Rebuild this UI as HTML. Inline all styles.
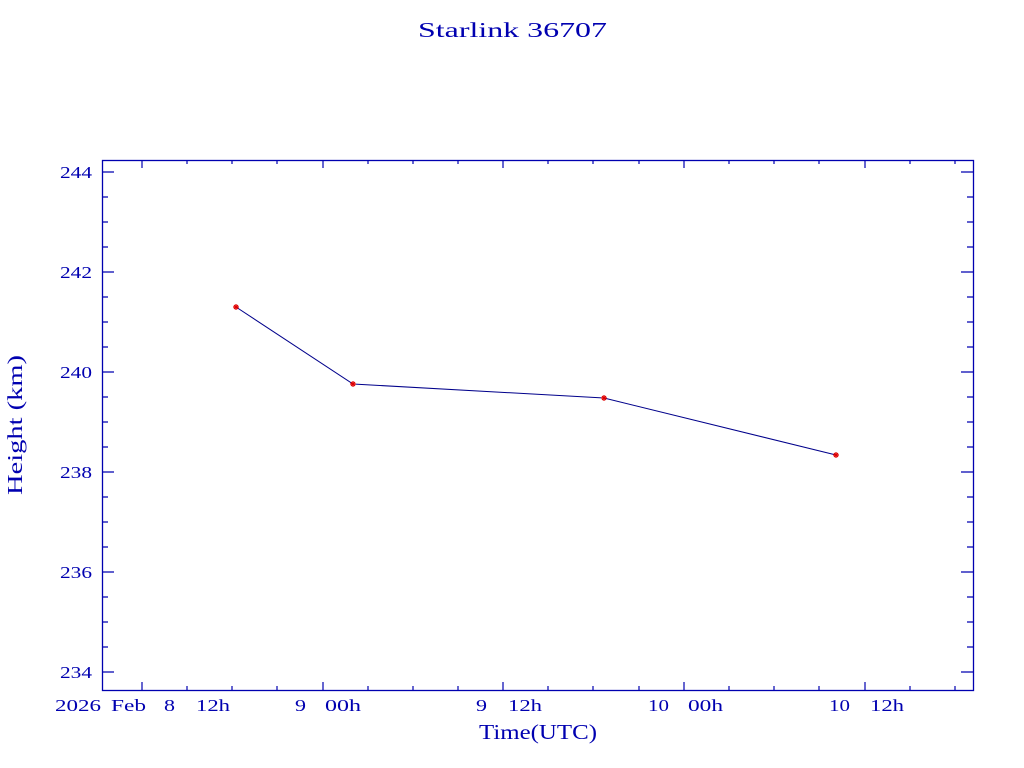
<!DOCTYPE html>
<html><head><meta charset="utf-8"><style>html,body{margin:0;padding:0;background:#fff;}svg{display:block}</style></head>
<body>
<svg width="1024" height="768" xmlns="http://www.w3.org/2000/svg" font-family="'Liberation Serif', serif" fill="#0000b0">
<rect width="1024" height="768" fill="#fff"/>
<text x="418" y="37" font-size="21" textLength="189" lengthAdjust="spacingAndGlyphs">Starlink 36707</text>
<rect x="102.5" y="160.5" width="871" height="530" fill="none" stroke="#0000b0" stroke-width="1.3"/>
<g stroke="#0000b0" stroke-width="1.2">
<path d="M102 172h12M102 197h6M102 222h6M102 247h6M102 272h12M102 297h6M102 322h6M102 347h6M102 372h12M102 397h6M102 422h6M102 447h6M102 472h12M102 497h6M102 522h6M102 547h6M102 572h12M102 597h6M102 622h6M102 647h6M102 672h12"/>
<path d="M973 172h-12M973 197h-6M973 222h-6M973 247h-6M973 272h-12M973 297h-6M973 322h-6M973 347h-6M973 372h-12M973 397h-6M973 422h-6M973 447h-6M973 472h-12M973 497h-6M973 522h-6M973 547h-6M973 572h-12M973 597h-6M973 622h-6M973 647h-6M973 672h-12"/>
<path d="M142 690v-8M323 690v-8M503 690v-8M684 690v-8M865 690v-8M187 690v-4M232 690v-4M277 690v-4M368 690v-4M413 690v-4M458 690v-4M548 690v-4M593 690v-4M639 690v-4M729 690v-4M774 690v-4M819 690v-4M910 690v-4M955 690v-4"/>
<path d="M142 160v8M323 160v8M503 160v8M684 160v8M865 160v8M187 160v4M232 160v4M277 160v4M368 160v4M413 160v4M458 160v4M548 160v4M593 160v4M639 160v4M729 160v4M774 160v4M819 160v4M910 160v4M955 160v4"/>
</g>
<g font-size="17">
<text x="60" y="178" textLength="32" lengthAdjust="spacingAndGlyphs">244</text>
<text x="60" y="278" textLength="32" lengthAdjust="spacingAndGlyphs">242</text>
<text x="60" y="378" textLength="32" lengthAdjust="spacingAndGlyphs">240</text>
<text x="60" y="478" textLength="32" lengthAdjust="spacingAndGlyphs">238</text>
<text x="60" y="578" textLength="32" lengthAdjust="spacingAndGlyphs">236</text>
<text x="60" y="678" textLength="32" lengthAdjust="spacingAndGlyphs">234</text>
</g>
<g font-size="17">
<text x="55" y="711" textLength="46" lengthAdjust="spacingAndGlyphs">2026</text>
<text x="111" y="711" textLength="35" lengthAdjust="spacingAndGlyphs">Feb</text>
<text x="164" y="711" textLength="11" lengthAdjust="spacingAndGlyphs">8</text>
<text x="196" y="711" textLength="34" lengthAdjust="spacingAndGlyphs">12h</text>
<text x="295" y="711" textLength="11" lengthAdjust="spacingAndGlyphs">9</text>
<text x="325" y="711" textLength="36" lengthAdjust="spacingAndGlyphs">00h</text>
<text x="476" y="711" textLength="11" lengthAdjust="spacingAndGlyphs">9</text>
<text x="508" y="711" textLength="34" lengthAdjust="spacingAndGlyphs">12h</text>
<text x="648" y="711" textLength="21" lengthAdjust="spacingAndGlyphs">10</text>
<text x="688" y="711" textLength="35" lengthAdjust="spacingAndGlyphs">00h</text>
<text x="829" y="711" textLength="21" lengthAdjust="spacingAndGlyphs">10</text>
<text x="870" y="711" textLength="34" lengthAdjust="spacingAndGlyphs">12h</text>
</g>
<text x="479" y="739" font-size="21" textLength="118" lengthAdjust="spacingAndGlyphs">Time(UTC)</text>
<text transform="translate(22,495) rotate(-90)" font-size="21" textLength="140" lengthAdjust="spacingAndGlyphs">Height (km)</text>
<polyline points="236,307 353,384 604,398 836,455" fill="none" stroke="#00008b" stroke-width="1"/>
<g stroke="#e00000" stroke-width="1.2">
<path d="M233 307h6M236 304v6M234 305l4 4M238 305l-4 4"/>
<path d="M350 384h6M353 381v6M351 382l4 4M355 382l-4 4"/>
<path d="M601 398h6M604 395v6M602 396l4 4M606 396l-4 4"/>
<path d="M833 455h6M836 452v6M834 453l4 4M838 453l-4 4"/>
</g>
</svg>
</body></html>
